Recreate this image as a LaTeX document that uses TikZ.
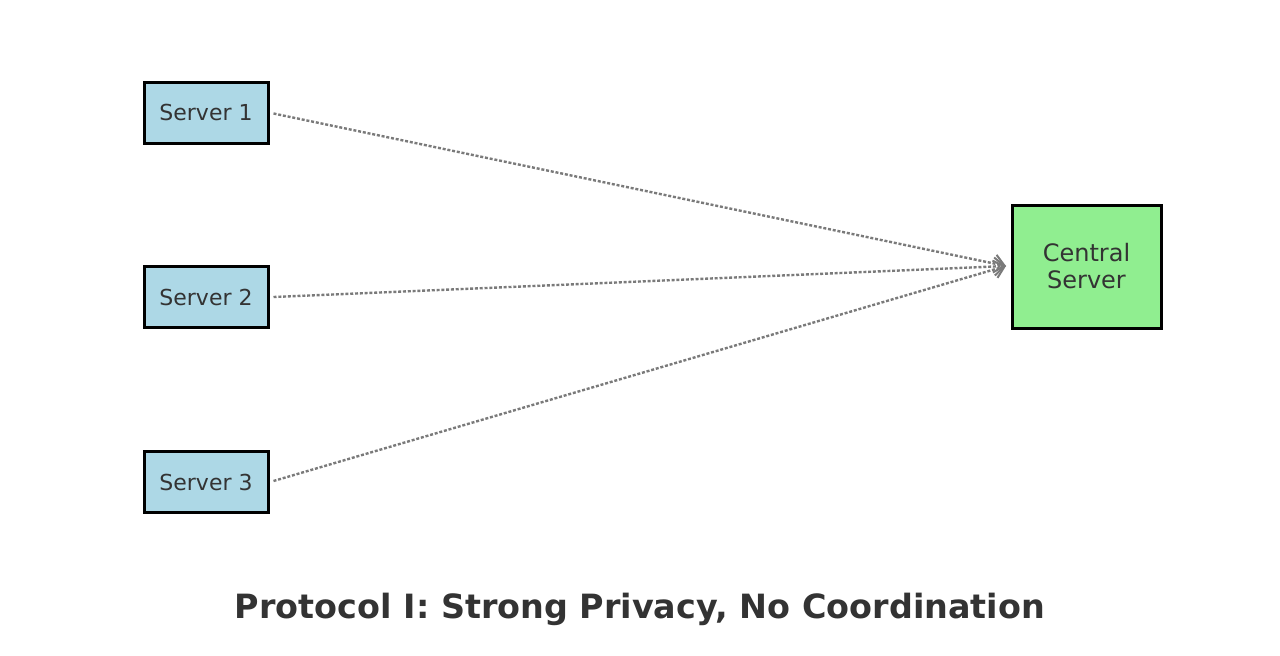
\documentclass[tikz,border=0pt]{standalone}
\usepackage{fontspec}
\setmainfont{DejaVu Sans}
\usetikzlibrary{arrows.meta}
\definecolor{txt}{HTML}{333333}
\definecolor{lblue}{HTML}{ADD8E6}
\definecolor{lgreen}{HTML}{90EE90}
\definecolor{conn}{HTML}{7A7A7A}
\begin{document}
\begin{tikzpicture}[x=1pt,y=-1pt,
  srv/.style={draw=black,line width=3pt,fill=lblue,minimum width=124pt,minimum height=61pt,inner sep=0pt,text=txt,font=\fontsize{22}{26}\selectfont},
  ctr/.style={draw=black,line width=3pt,fill=lgreen,minimum width=149pt,minimum height=123pt,inner sep=0pt,text=txt,align=center,font=\fontsize{24}{27}\selectfont},
  link/.style={draw=conn,line width=2.4pt,dash pattern=on 3pt off 1.8pt,-{Straight Barb[length=10pt,width=18pt,line width=2pt]}}]
\useasboundingbox (0,0) rectangle (1280,656);
\node[srv] (s1) at (206,112.5) {Server 1};
\node[srv] (s2) at (206,297) {Server 2};
\node[srv] (s3) at (206,482) {Server 3};
\node[ctr] (c) at (1086.5,266.5) {Central\\Server};
\coordinate (tip) at (1006,266);
\draw[link] (s1.east) ++(4,1) -- (tip);
\draw[link] (s2.east) ++(4,0) -- (tip);
\draw[link] (s3.east) ++(4,-1) -- (tip);
\node[text=txt,font=\fontsize{33.4}{38}\selectfont\bfseries] (title) at (640,609) {Protocol I: Strong Privacy, No Coordination};
\end{tikzpicture}
\end{document}
